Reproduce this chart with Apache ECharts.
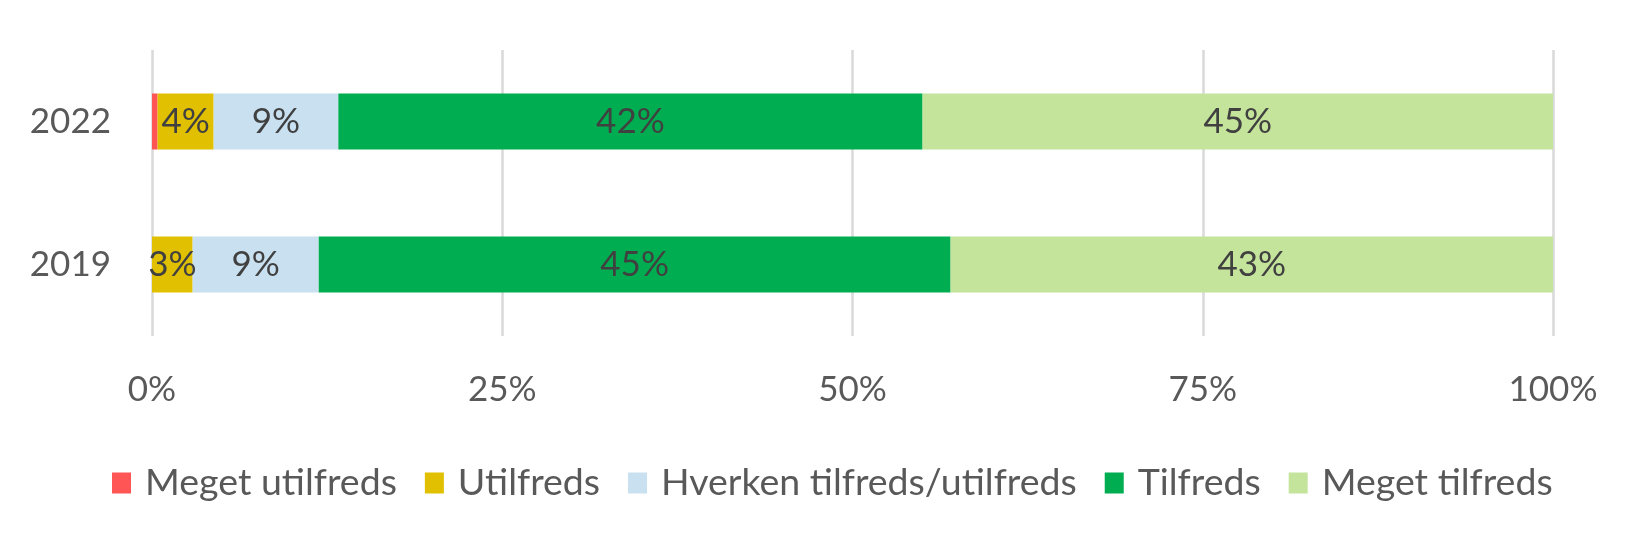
<!DOCTYPE html>
<html><head><meta charset="utf-8">
<script src="https://cdn.jsdelivr.net/npm/echarts@6/dist/echarts.min.js"></script>
<style>html,body{margin:0;padding:0;background:#fff}#c{width:1650px;height:547px}</style>
</head><body><div id="c"></div>
<script>
const categories = ['2019', '2022'];
const seriesNames = ['Meget utilfreds', 'Utilfreds', 'Hverken tilfreds/utilfreds', 'Tilfreds', 'Meget tilfreds'];
const megetUtilfreds = [0, 0.4];
const utilfreds = [2.9, 4.0];
const hverken = [9.0, 8.9];
const tilfreds = [45.1, 41.7];
const megetTilfreds = [43.0, 45.0];
const xTicks = [0, 25, 50, 75, 100];
const colors = ['#ff5555', '#e0c000', '#c8e0f0', '#00ad50', '#c4e49c'];
const values = [megetUtilfreds, utilfreds, hverken, tilfreds, megetTilfreds];
const font = 'Lato, "Open Sans", sans-serif';
const chart = echarts.init(document.getElementById('c'));
chart.setOption({
  animation: false,
  color: colors,
  grid: {left: 152, right: 97, top: 50, bottom: 211, containLabel: false},
  legend: {
    top: 459, left: 107, itemWidth: 19, itemHeight: 21, itemGap: 28,
    icon: 'rect',
    textStyle: {fontFamily: font, fontSize: 37.5, color: '#595959', padding: [0, 0, 0, 9]},
    data: seriesNames
  },
  xAxis: {
    type: 'value', min: 0, max: 100, interval: 25,
    axisLabel: {formatter: v => xTicks.includes(v) ? v + '%' : '', fontFamily: font, fontSize: 35, color: '#595959', margin: 36},
    splitLine: {lineStyle: {color: '#d9d9d9', width: 2.5}},
    axisLine: {show: false}, axisTick: {show: false}
  },
  yAxis: {
    type: 'category', data: categories,
    axisLabel: {fontFamily: font, fontSize: 35, color: '#595959', margin: 41},
    axisLine: {show: false}, axisTick: {show: false}
  },
  series: seriesNames.map((n, i) => ({
    name: n, type: 'bar', stack: 'a', barWidth: 56,
    data: values[i],
    label: {
      show: i > 0, position: 'inside', fontFamily: font, fontSize: 35, color: '#404040',
      formatter: p => p.value > 0 ? Math.round(p.value) + '%' : ''
    }
  }))
});
</script></body></html>
